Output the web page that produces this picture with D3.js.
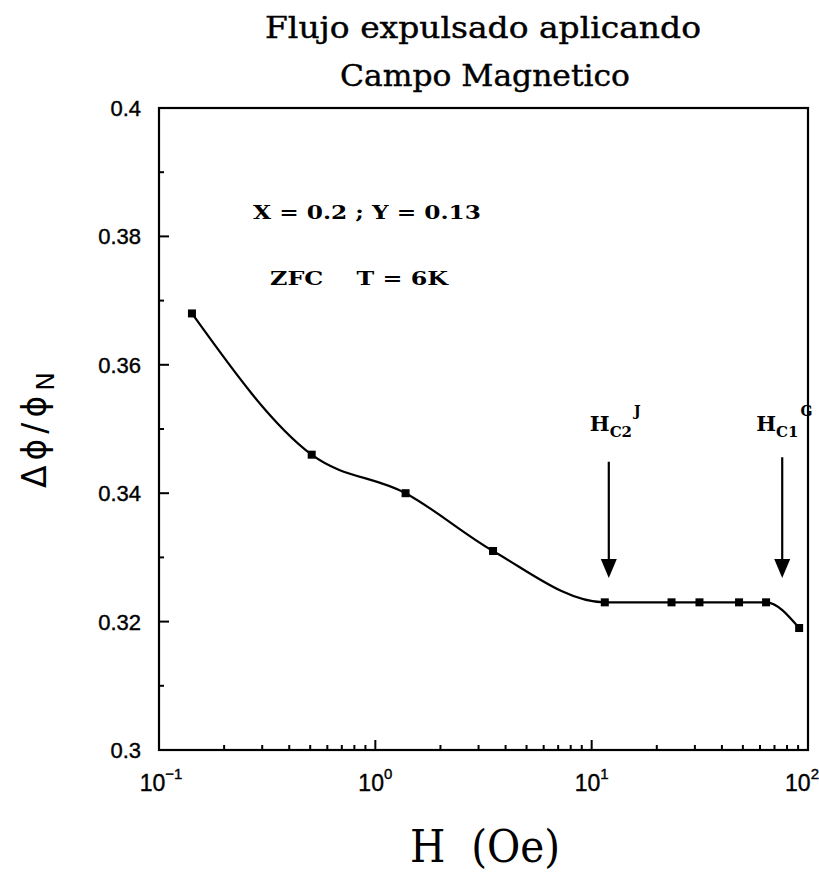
<!DOCTYPE html>
<html>
<head>
<meta charset="utf-8">
<script src="https://cdn.jsdelivr.net/npm/d3@7"></script>
<style>
  html, body { margin: 0; padding: 0; background: #fff; }
  svg { display: block; }
</style>
</head>
<body>
<script>
// ---- data ----
const fieldH = [0.142, 0.508, 1.38, 3.5, 11.5, 23.4, 31.5, 48, 64, 91];
const fluxRatio = [0.368, 0.346, 0.340, 0.331, 0.323, 0.323, 0.323, 0.323, 0.323, 0.319];
const yTicks = [0.3, 0.32, 0.34, 0.36, 0.38, 0.4];
const yTickLabels = ["0.3", "0.32", "0.34", "0.36", "0.38", "0.4"];
const xTicks = [0.1, 1, 10, 100];
const xTickExponents = ["\u22121", "0", "1", "2"];
const arrowH = [12, 76];
const arrowTop = [0.3449, 0.3456];
const arrowTip = [0.3268, 0.3268];
const arrowMain = ["H", "H"];
const arrowSub = ["C2", "C1"];
const arrowSup = ["J", "G"];
const titleLines = ["Flujo expulsado aplicando", "Campo Magnetico"];
const notes = ["X = 0.2 ; Y = 0.13", "ZFC    T = 6K"];

const W = 819, H = 874;
const L = 159, R = 808, T = 108, B = 750;

const svg = d3.select("body").append("svg").attr("width", W).attr("height", H);

const x = d3.scaleLog().domain([0.1, 100]).range([L, R]);
const y = d3.scaleLinear().domain([0.3, 0.4]).range([B, T]);

// frame
svg.append("rect").attr("x", L).attr("y", T).attr("width", R - L).attr("height", B - T)
  .attr("fill", "none").attr("stroke", "#000").attr("stroke-width", 2.2);

// y ticks (inward)
const yMinor = d3.range(0.31, 0.4, 0.02).map(v => +v.toFixed(2));
const gy = svg.append("g");
gy.selectAll("line.maj").data(yTicks).join("line")
  .attr("x1", L).attr("x2", L + 10).attr("y1", d => y(d)).attr("y2", d => y(d))
  .attr("stroke", "#000").attr("stroke-width", 2);
gy.selectAll("line.min").data(yMinor).join("line")
  .attr("x1", L).attr("x2", L + 5).attr("y1", d => y(d)).attr("y2", d => y(d))
  .attr("stroke", "#000").attr("stroke-width", 2);
gy.selectAll("text").data(yTicks).join("text")
  .attr("x", 141).attr("y", d => y(d) + 8)
  .attr("text-anchor", "end")
  .attr("font-family", "Liberation Sans, Arial, sans-serif")
  .attr("font-size", 22)
  .attr("stroke", "#000").attr("stroke-width", 0.4)
  .text((d, i) => yTickLabels[i]);

// x ticks (inward, from bottom)
const xMinor = [];
[0.1, 1, 10].forEach(dec => { for (let k = 2; k <= 9; k++) xMinor.push(dec * k); });
const gx = svg.append("g");
gx.selectAll("line.maj").data(xTicks).join("line")
  .attr("x1", d => x(d)).attr("x2", d => x(d)).attr("y1", B).attr("y2", B - 10)
  .attr("stroke", "#000").attr("stroke-width", 2);
gx.selectAll("line.min").data(xMinor).join("line")
  .attr("x1", d => x(d)).attr("x2", d => x(d)).attr("y1", B).attr("y2", B - 5)
  .attr("stroke", "#000").attr("stroke-width", 2);
const xl = gx.selectAll("text").data(xTicks).join("text")
  .attr("x", (d, i) => x(d) + (i === 3 ? -6 : (i === 0 ? 2 : 0))).attr("y", 791)
  .attr("text-anchor", "middle")
  .attr("font-family", "Liberation Sans, Arial, sans-serif")
  .attr("font-size", 23)
  .attr("stroke", "#000").attr("stroke-width", 0.4);
xl.append("tspan").text("10");
xl.append("tspan").attr("dy", -12).attr("font-size", 15).text((d, i) => xTickExponents[i]);

// curve
const pts = fieldH.map((h, i) => [x(h), y(fluxRatio[i])]);
svg.append("path")
  .attr("d", d3.line().curve(d3.curveMonotoneX)(pts))
  .attr("fill", "none").attr("stroke", "#000").attr("stroke-width", 2.2);

// markers
svg.append("g").selectAll("rect").data(fieldH).join("rect")
  .attr("x", (d) => x(d) - 4).attr("y", (d, i) => y(fluxRatio[i]) - 4)
  .attr("width", 8).attr("height", 8).attr("fill", "#000");

// arrows
arrowH.forEach((h, i) => {
  const ax = x(h), yt = y(arrowTop[i]), yp = y(arrowTip[i]);
  svg.append("line").attr("x1", ax).attr("x2", ax).attr("y1", yt).attr("y2", yp - 15)
    .attr("stroke", "#000").attr("stroke-width", 2.2);
  svg.append("path")
    .attr("d", `M${ax - 8},${yp - 19} L${ax + 8},${yp - 19} L${ax},${yp} Z`)
    .attr("fill", "#000");
  const t = svg.append("text")
    .attr("x", ax - (i === 0 ? 19 : 26)).attr("y", 431)
    .attr("font-family", "DejaVu Serif, serif")
    .attr("font-weight", "bold")
    .attr("font-size", 21);
  t.append("tspan").text(arrowMain[i]);
  t.append("tspan").attr("dy", 6).attr("font-size", 15).text(arrowSub[i]);
  t.append("tspan").attr("dy", -21).attr("dx", 2).attr("font-size", 14).text(arrowSup[i]);
});

// titles
svg.append("text").attr("x", 483).attr("y", 38).attr("text-anchor", "middle")
  .attr("font-family", "DejaVu Serif, serif").attr("font-size", 29)
  .attr("stroke", "#000").attr("stroke-width", 0.4)
  .attr("textLength", 436).attr("lengthAdjust", "spacingAndGlyphs")
  .text(titleLines[0]);
svg.append("text").attr("x", 485).attr("y", 86).attr("text-anchor", "middle")
  .attr("font-family", "DejaVu Serif, serif").attr("font-size", 29)
  .attr("stroke", "#000").attr("stroke-width", 0.4)
  .attr("textLength", 290).attr("lengthAdjust", "spacingAndGlyphs")
  .text(titleLines[1]);

// notes
svg.append("text").attr("x", 253).attr("y", 219)
  .attr("font-family", "DejaVu Serif, serif").attr("font-weight", "bold").attr("font-size", 19)
  .attr("textLength", 228).attr("lengthAdjust", "spacingAndGlyphs")
  .text(notes[0]);
svg.append("text").attr("x", 270).attr("y", 285)
  .attr("font-family", "DejaVu Serif, serif").attr("font-weight", "bold").attr("font-size", 19)
  .attr("textLength", 178).attr("lengthAdjust", "spacingAndGlyphs")
  .style("white-space", "pre")
  .text(notes[1]);

// axis titles
svg.append("text").attr("x", 485).attr("y", 862).attr("text-anchor", "middle")
  .attr("font-family", "DejaVu Serif, serif").attr("font-size", 44)
  .attr("textLength", 150).attr("lengthAdjust", "spacingAndGlyphs")
  .style("white-space", "pre")
  .text("H  (Oe)");

const yt = svg.append("text")
  .attr("transform", "translate(46,430) rotate(-90)")
  .attr("text-anchor", "middle")
  .attr("font-family", "DejaVu Sans, sans-serif").attr("font-size", 33);
yt.append("tspan").attr("letter-spacing", 5).text("\u0394\u03d5/\u03d5");
yt.append("tspan").attr("dy", 8).attr("font-size", 25).text("N");
</script>
</body>
</html>
